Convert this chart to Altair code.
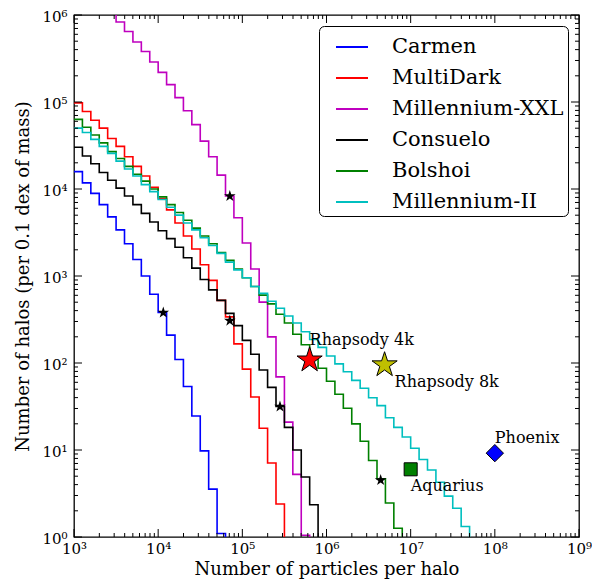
import altair as alt
import pandas as pd

# ---------------- data ----------------
series_names = ["Carmen", "MultiDark", "Millennium-XXL", "Consuelo", "Bolshoi", "Millennium-II"]
series_colors = ["#0000ff", "#ff0000", "#bf00bf", "#000000", "#008000", "#00bfbf"]
# log10(particles) at the left edge of each series' first bin; bins are 0.1 dex wide
series_start = [3.0, 3.0, 3.4, 3.0, 3.0, 3.0]
bin_dex = 0.1

# log10(number of halos) per bin
carmen_log = [4.20, 4.07, 3.95, 3.82, 3.68, 3.53, 3.37, 3.19, 3.00, 2.79, 2.58, 2.32,
              2.04, 1.73, 1.39, 0.99, 0.55, 0.04]
multidark_log = [4.99, 4.89, 4.79, 4.70, 4.58, 4.49, 4.37, 4.26, 4.15, 4.02, 3.89, 3.76,
                 3.61, 3.46, 3.31, 3.13, 2.95, 2.72, 2.53, 2.22, 1.93, 1.61, 1.25, 0.85, 0.38]
mxxl_log = [6.04, 5.92, 5.81, 5.69, 5.58, 5.46, 5.34, 5.20, 5.05, 4.90, 4.74, 4.55,
            4.37, 4.16, 3.92, 3.67, 3.38, 3.08, 2.70, 2.30, 1.84, 1.32, 0.72, 0.02]
consuelo_log = [4.48, 4.38, 4.29, 4.19, 4.10, 4.01, 3.92, 3.82, 3.72, 3.62, 3.52, 3.43,
                3.33, 3.21, 3.09, 2.96, 2.84, 2.72, 2.57, 2.43, 2.26, 2.10, 1.92, 1.72,
                1.50, 1.26, 1.00, 0.69, 0.37]
bolshoi_log = [4.80, 4.71, 4.62, 4.53, 4.43, 4.35, 4.26, 4.17, 4.09, 4.00, 3.91, 3.82,
               3.73, 3.64, 3.55, 3.46, 3.37, 3.27, 3.18, 3.08, 2.98, 2.88, 2.78, 2.68,
               2.56, 2.46, 2.33, 2.21, 2.07, 1.94, 1.79, 1.64, 1.48, 1.30, 1.10, 0.88,
               0.67, 0.39, 0.10]
mii_log = [4.70, 4.65, 4.57, 4.49, 4.41, 4.32, 4.23, 4.15, 4.05, 3.97, 3.88, 3.79,
           3.70, 3.61, 3.53, 3.44, 3.35, 3.26, 3.16, 3.07, 2.98, 2.88, 2.80, 2.71,
           2.63, 2.54, 2.46, 2.36, 2.27, 2.18, 2.08, 1.99, 1.90, 1.80, 1.71, 1.60,
           1.51, 1.37, 1.26, 1.15, 1.02, 0.89, 0.77, 0.63, 0.47, 0.33, 0.12]
series_logs = [carmen_log, multidark_log, mxxl_log, consuelo_log, bolshoi_log, mii_log]

# small black stars on the curves
star_n = [1.15e4, 7.1e4, 7.1e4, 2.8e5, 4.4e6]
star_count = [380, 8300, 306, 31.5, 4.5]

# zoom simulations
zoom_labels = ["Rhapsody 4k", "Rhapsody 8k", "Aquarius", "Phoenix"]
zoom_n = [6.3e5, 4.9e6, 1.0e7, 1.0e8]
zoom_count = [108, 95, 6.0, 9.2]

x_major = [1e3, 1e4, 1e5, 1e6, 1e7, 1e8, 1e9]
y_major = [1, 10, 100, 1e3, 1e4, 1e5, 1e6]

# ---------------- tables ----------------
rows = []
for name, start, logs in zip(series_names, series_start, series_logs):
    for k, v in enumerate(logs):
        rows.append({"sim": name, "n": 10 ** (start + bin_dex * k), "halos": 10 ** v, "k": k})
    # closing edge: histogram falls to zero (below the axis, clipped away)
    rows.append({"sim": name, "n": 10 ** (start + bin_dex * len(logs)), "halos": 0.3, "k": len(logs)})
hist = pd.DataFrame(rows)

stars_df = pd.DataFrame({"n": star_n, "halos": star_count})
zoom_df = pd.DataFrame({"label": zoom_labels, "n": zoom_n, "halos": zoom_count})

x_minor = [m * 10 ** e for e in range(3, 9) for m in range(2, 10)]
y_minor = [m * 10 ** e for e in range(0, 6) for m in range(2, 10)]
xmaj_df = pd.DataFrame({"v": x_major})
xmin_df = pd.DataFrame({"v": x_minor})
ymaj_df = pd.DataFrame({"v": y_major})
ymin_df = pd.DataFrame({"v": y_minor})

W, H = 505, 522
FONT = "DejaVu Serif"
# five-pointed star glyph (unit symbol path)
STAR = ("M0,-1L0.2245,-0.309L0.9511,-0.309L0.3633,0.118L0.5878,0.809L0,0.382"
        "L-0.5878,0.809L-0.3633,0.118L-0.9511,-0.309L-0.2245,-0.309Z")

xscale = alt.Scale(type="log", domain=[1e3, 1e9])
yscale = alt.Scale(type="log", domain=[1, 1e6])
sup = "'10' + ['\u2070','\u00b9','\u00b2','\u00b3','\u2074','\u2075','\u2076','\u2077','\u2078','\u2079'][round(log(datum.value)/LN10)]"

x_main = alt.Axis(orient="bottom", values=x_major, labelExpr=sup, tickSize=0,
                  domain=False, grid=False, labelFont=FONT, labelFontSize=15,
                  labelColor="black", labelPadding=4, labelFlush=False, labelOverlap=False,
                  title="Number of particles per halo", titleFont=FONT, titleFontSize=18,
                  titleFontWeight="normal", titleColor="black", titlePadding=4)
y_main = alt.Axis(orient="left", values=y_major, labelExpr=sup, tickSize=0,
                  domain=False, grid=False, labelFont=FONT, labelFontSize=15,
                  labelColor="black", labelPadding=7, labelOffset=1, labelFlush=False,
                  labelOverlap=False,
                  title="Number of halos (per 0.1 dex of mass)", titleFont=FONT,
                  titleFontSize=18, titleFontWeight="normal", titleColor="black",
                  titlePadding=9)

lines = alt.Chart(hist).mark_line(interpolate="step-after", clip=True, strokeWidth=1.6).encode(
    x=alt.X("n:Q", scale=xscale, axis=x_main),
    y=alt.Y("halos:Q", scale=yscale, axis=y_main),
    color=alt.Color("sim:N", scale=alt.Scale(domain=series_names, range=series_colors),
                    sort=series_names,
                    legend=alt.Legend(title=None, orient="top-right", offset=11,
                                      labelFont=FONT, labelFontSize=21, labelColor="black",
                                      labelLimit=400, symbolType="stroke", symbolSize=1024,
                                      symbolStrokeWidth=2, rowPadding=4, padding=4,
                                      symbolOffset=12, labelOffset=23,
                                      strokeColor="black", cornerRadius=5,
                                      fillColor="white")),
    order="k:Q",
)


def xticks(df, y0, y1):
    return alt.Chart(df).mark_rule(color="black", strokeWidth=1).encode(
        x=alt.X("v:Q", scale=xscale, axis=None), y=alt.value(y0), y2=alt.value(y1))


def yticks(df, x0, x1):
    return alt.Chart(df).mark_rule(color="black", strokeWidth=1).encode(
        y=alt.Y("v:Q", scale=yscale, axis=None), x=alt.value(x0), x2=alt.value(x1))


tick_layers = [
    xticks(xmaj_df, H, H - 8), xticks(xmin_df, H, H - 4),
    xticks(xmaj_df, 0, 8), xticks(xmin_df, 0, 4),
    yticks(ymaj_df, 0, 8), yticks(ymin_df, 0, 4),
    yticks(ymaj_df, W, W - 8), yticks(ymin_df, W, W - 4),
]

small_stars = alt.Chart(stars_df).mark_point(shape=STAR, filled=True, color="black",
                                             size=150, opacity=1).encode(
    x=alt.X("n:Q", scale=xscale, axis=None),
    y=alt.Y("halos:Q", scale=yscale, axis=None),
)


def marker(name, shape, color, size):
    return alt.Chart(zoom_df).transform_filter(alt.datum.label == name).mark_point(
        shape=shape, filled=True, fill=color, stroke="black", strokeWidth=1,
        size=size, opacity=1).encode(
        x=alt.X("n:Q", scale=xscale, axis=None),
        y=alt.Y("halos:Q", scale=yscale, axis=None),
    )


def note(name, dx, dy):
    return alt.Chart(zoom_df).transform_filter(alt.datum.label == name).mark_text(
        align="left", baseline="alphabetic", dx=dx, dy=dy, font=FONT, fontSize=16,
        color="black").encode(
        x=alt.X("n:Q", scale=xscale, axis=None),
        y=alt.Y("halos:Q", scale=yscale, axis=None),
        text="label:N",
    )


layers = [lines] + tick_layers + [
    small_stars,
    marker("Rhapsody 4k", STAR, "#ff0000", 700),
    marker("Rhapsody 8k", STAR, "#bfbf00", 700),
    marker("Aquarius", "square", "#008000", 170),
    marker("Phoenix", "diamond", "#0000ff", 300),
    note("Rhapsody 4k", 0, -15),
    note("Rhapsody 8k", 10, 22),
    note("Aquarius", 0, 22),
    note("Phoenix", 0, -10),
]

chart = alt.layer(*layers).resolve_axis(
    x="independent", y="independent"
).properties(
    width=W, height=H,
    padding={"left": 66, "top": 7, "right": 13, "bottom": 43},
    autosize=alt.AutoSizeParams(type="none"),
).configure_view(stroke="black", strokeWidth=1.3)

chart.save("out.html", embed_options={"renderer": "svg", "actions": False})
